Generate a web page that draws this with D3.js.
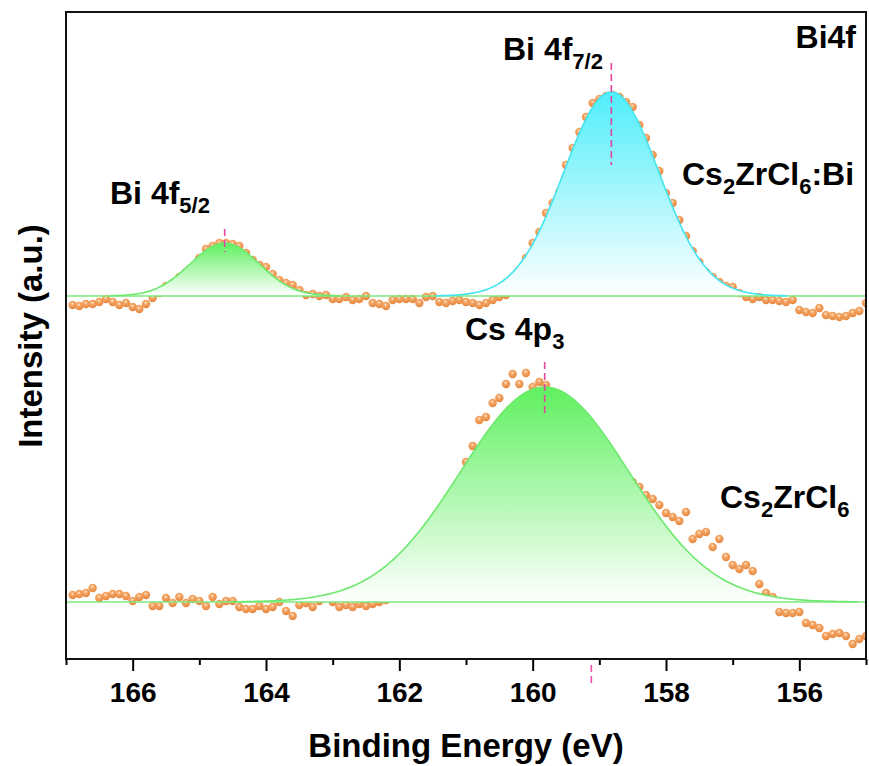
<!DOCTYPE html>
<html>
<head>
<meta charset="utf-8">
<script src="https://cdn.jsdelivr.net/npm/d3@7"></script>
<style>
	html, body { margin: 0; padding: 0; background: #fff; }
	svg { display: block; font-family: "Liberation Sans", Arial, sans-serif; font-weight: bold; }
</style>
</head>
<body>
<svg id="chart" width="869" height="766"></svg>
<script>
	"use strict";

	// scan grid, binding energy in eV
	var aEnergy = [
		166.9, 166.8, 166.7, 166.6, 166.5, 166.4, 166.3, 166.2, 166.1, 166.0,
		165.9, 165.8, 165.7, 165.6, 165.5, 165.4, 165.3, 165.2, 165.1, 165.0,
		164.9, 164.8, 164.7, 164.6, 164.5, 164.4, 164.3, 164.2, 164.1, 164.0,
		163.9, 163.8, 163.7, 163.6, 163.5, 163.4, 163.3, 163.2, 163.1, 163.0,
		162.9, 162.8, 162.7, 162.6, 162.5, 162.4, 162.3, 162.2, 162.1, 162.0,
		161.9, 161.8, 161.7, 161.6, 161.5, 161.4, 161.3, 161.2, 161.1, 161.0,
		160.9, 160.8, 160.7, 160.6, 160.5, 160.4, 160.3, 160.2, 160.1, 160.0,
		159.9, 159.8, 159.7, 159.6, 159.5, 159.4, 159.3, 159.2, 159.1, 159.0,
		158.9, 158.8, 158.7, 158.6, 158.5, 158.4, 158.3, 158.2, 158.1, 158.0,
		157.9, 157.8, 157.7, 157.6, 157.5, 157.4, 157.3, 157.2, 157.1, 157.0,
		156.9, 156.8, 156.7, 156.6, 156.5, 156.4, 156.3, 156.2, 156.1, 156.0,
		155.9, 155.8, 155.7, 155.6, 155.5, 155.4, 155.3, 155.2, 155.1, 155.0
	];

	// measured intensity above the fitted background (a.u.)
	var aIntensityDoped = [
		-9, -10, -8, -8, -6, -3, -6, -9, -7, -11,
		-13, -8, -2, 3, 10, 13, 19, 24, 29, 38,
		47, 50, 53, 53, 52, 50, 43, 36, 31, 29,
		22, 16, 13, 11, 6, 1, 2, 0, 1, -3,
		-3, -1, -4, -3, 0, -7, -8, -10, -4, -3,
		-3, -3, -7, -1, 0, -6, -7, -5, -4, -6,
		-7, -9, -7, -4, -1, 1, 9, 26, 38, 53,
		64, 83, 93, 104, 131, 148, 164, 179, 193, 197,
		200, 201, 199, 194, 189, 171, 158, 141, 125, 103,
		93, 76, 60, 45, 34, 24, 19, 14, 10, 9,
		3, -1, -3, -1, -4, -4, -5, -6, -4, -14,
		-16, -17, -12, -19, -20, -21, -20, -17, -15, -7
	];
	var aIntensityHost = [
		7, 8, 9, 14, 4, 6, 8, 8, 6, 1,
		5, 7, -4, -4, 4, -1, 5, -1, 3, 1,
		-4, 5, -2, 1, 1, -5, -7, -7, -4, -7,
		-5, 0, -9, -14, -3, -1, -5, 1, 4, 0,
		-5, -3, -5, -2, -4, -2, 0, 2, 5, 9,
		15, 24, 35, 48, 62, 78, 92, 105, 120, 140,
		156, 182, 185, 199, 204, 218, 228, 218, 229, 215,
		220, 217, 208, 205, 203, 198, 190, 180, 170, 160,
		150, 141, 133, 126, 120, 115, 107, 103, 97, 89,
		85, 81, 90, 63, 68, 70, 55, 63, 45, 37,
		33, 37, 31, 18, 9, 5, -10, -11, -11, -10,
		-21, -23, -26, -34, -32, -31, -34, -42, -37, -34
	];

	// stacking offset of each spectrum (a.u.)
	var aSpectra = ["Cs2ZrCl6:Bi", "Cs2ZrCl6"];
	var aBackground = [363, 57];

	// fitted components
	var aPeakNames = ["Bi 4f5/2", "Bi 4f7/2", "Cs 4p3"];
	var aPeakSpectrum = [0, 0, 1];
	var aPeakCenter = [164.62, 158.82, 159.82];
	var aPeakHeight = [53, 204, 215];
	var aPeakFwhm = [1.22, 1.68, 2.97];

	var fStrayMark = 159.12;
	var aMajorTicks = [166, 164, 162, 160, 158, 156];
	var aMinorTicks = [167, 165, 163, 161, 159, 157, 155];

	var iWidth = 869, iHeight = 766;
	var oMargin = { top: 12, right: 3, bottom: 107, left: 66 };
	var aPeakColor = ["#5ff05f", "#4feefa", "#5ff05f"];
	var aPeakLine = ["#6fe86f", "#45e4ee", "#6fe86f"];
	var aMarkSpan = [[-14, 9], [-29, 73], [-25, 28]];

	var oSvg = d3.select("#chart");

	var oScaleX = d3.scaleLinear()
		.domain([167, 155])
		.range([oMargin.left, iWidth - oMargin.right]);

	var oScaleY = d3.scaleLinear()
		.domain([0, 647])
		.range([iHeight - oMargin.bottom, oMargin.top]);

	var oDefs = oSvg.append("defs");

	oDefs.append("clipPath").attr("id", "plotClip")
		.append("rect")
		.attr("x", oMargin.left)
		.attr("y", oMargin.top)
		.attr("width", iWidth - oMargin.right - oMargin.left)
		.attr("height", iHeight - oMargin.bottom - oMargin.top);

	var oBall = oDefs.append("radialGradient")
		.attr("id", "ball")
		.attr("cx", "45%").attr("cy", "35%").attr("r", "65%");
	oBall.append("stop").attr("offset", "0%").attr("stop-color", "#ffeedd");
	oBall.append("stop").attr("offset", "30%").attr("stop-color", "#f5a868");
	oBall.append("stop").attr("offset", "100%").attr("stop-color", "#e5853c");

	function gauss(iPeak, fE) {
		var fSigma = aPeakFwhm[iPeak] / 2.3548;
		var fD = (fE - aPeakCenter[iPeak]) / fSigma;
		return aPeakHeight[iPeak] * Math.exp(-0.5 * fD * fD);
	}

	var aFine = d3.range(155, 167.001, 0.02);
	var oPlot = oSvg.append("g").attr("clip-path", "url(#plotClip)");

	// measured points
	[aIntensityDoped, aIntensityHost].forEach(function (aValues, iSpec) {
		oPlot.append("g")
			.selectAll("circle")
			.data(aValues)
			.enter().append("circle")
			.attr("cx", function (d, i) { return oScaleX(aEnergy[i]); })
			.attr("cy", function (d) { return oScaleY(aBackground[iSpec] + d); })
			.attr("r", 4.2)
			.attr("fill", "url(#ball)");
	});

	// fitted components, filled
	aPeakNames.forEach(function (sName, iPeak) {
		var fBase = aBackground[aPeakSpectrum[iPeak]];
		var sId = "fill" + iPeak;
		var oGrad = oDefs.append("linearGradient")
			.attr("id", sId)
			.attr("gradientUnits", "userSpaceOnUse")
			.attr("x1", 0).attr("x2", 0)
			.attr("y1", oScaleY(fBase + aPeakHeight[iPeak]))
			.attr("y2", oScaleY(fBase));
		oGrad.append("stop").attr("offset", "0%").attr("stop-color", aPeakColor[iPeak]);
		oGrad.append("stop").attr("offset", "100%").attr("stop-color", "#ffffff");

		var oArea = d3.area()
			.x(function (e) { return oScaleX(e); })
			.y0(oScaleY(fBase))
			.y1(function (e) { return oScaleY(fBase + gauss(iPeak, e)); });

		oPlot.append("path")
			.datum(aFine)
			.attr("d", oArea)
			.attr("fill", "url(#" + sId + ")");
	});

	// backgrounds
	aBackground.forEach(function (fBase) {
		oPlot.append("line")
			.attr("x1", oScaleX(167)).attr("x2", oScaleX(155))
			.attr("y1", oScaleY(fBase)).attr("y2", oScaleY(fBase))
			.attr("stroke", "#7ce87c")
			.attr("stroke-width", 1.6);
	});

	// component outlines
	aPeakNames.forEach(function (sName, iPeak) {
		var fBase = aBackground[aPeakSpectrum[iPeak]];
		var oLine = d3.line()
			.x(function (e) { return oScaleX(e); })
			.y(function (e) { return oScaleY(fBase + gauss(iPeak, e)); });
		oPlot.append("path")
			.datum(aFine.filter(function (e) { return gauss(iPeak, e) > 0.2; }))
			.attr("d", oLine)
			.attr("fill", "none")
			.attr("stroke", aPeakLine[iPeak])
			.attr("stroke-width", 1.6);
	});

	// peak position marks
	aPeakNames.forEach(function (sName, iPeak) {
		var fTop = oScaleY(aBackground[aPeakSpectrum[iPeak]] + aPeakHeight[iPeak]);
		oSvg.append("line")
			.attr("x1", oScaleX(aPeakCenter[iPeak])).attr("x2", oScaleX(aPeakCenter[iPeak]))
			.attr("y1", fTop + aMarkSpan[iPeak][0]).attr("y2", fTop + aMarkSpan[iPeak][1])
			.attr("stroke", "#e0479f")
			.attr("stroke-width", 1.6)
			.attr("stroke-dasharray", "7,4");
	});
	oSvg.append("line")
		.attr("x1", oScaleX(fStrayMark)).attr("x2", oScaleX(fStrayMark))
		.attr("y1", oScaleY(0) + 6).attr("y2", oScaleY(0) + 28)
		.attr("stroke", "#f050a8")
		.attr("stroke-width", 1.6)
		.attr("stroke-dasharray", "7,4");

	// axes
	var oXAxis = oSvg.append("g")
		.attr("transform", "translate(0," + oScaleY(0) + ")")
		.call(d3.axisBottom(oScaleX).tickValues(aMajorTicks).tickSize(12).tickPadding(11)
			.tickFormat(d3.format("d")));
	oXAxis.select(".domain").remove();
	oXAxis.selectAll("line").attr("stroke", "#000").attr("stroke-width", 2);
	oXAxis.selectAll("text")
		.attr("fill", "#000")
		.style("font-size", "28px")
		.style("font-family", "'Liberation Sans', Arial, sans-serif")
		.style("font-weight", "bold");

	var oMinor = oSvg.append("g")
		.attr("transform", "translate(0," + oScaleY(0) + ")")
		.call(d3.axisBottom(oScaleX).tickValues(aMinorTicks).tickSize(6).tickFormat(""));
	oMinor.select(".domain").remove();
	oMinor.selectAll("line").attr("stroke", "#000").attr("stroke-width", 2);

	oSvg.append("rect")
		.attr("x", oMargin.left)
		.attr("y", oMargin.top)
		.attr("width", iWidth - oMargin.right - oMargin.left)
		.attr("height", iHeight - oMargin.bottom - oMargin.top)
		.attr("fill", "none")
		.attr("stroke", "#111")
		.attr("stroke-width", 2);

	oSvg.append("text")
		.attr("x", 466).attr("y", 757)
		.attr("text-anchor", "middle")
		.style("font-size", "33px")
		.text("Binding Energy (eV)");

	oSvg.append("text")
		.attr("transform", "translate(42,336) rotate(-90)")
		.attr("text-anchor", "middle")
		.style("font-size", "33px")
		.text("Intensity (a.u.)");

	// annotations: [text, subscript?]
	var aLabels = [
		{ x: 110, y: 204, parts: [["Bi 4f", 0], ["5/2", 1]] },
		{ x: 503, y: 60, parts: [["Bi 4f", 0], ["7/2", 1]] },
		{ x: 465, y: 340, parts: [["Cs 4p", 0], ["3", 1]] },
		{ x: 682, y: 185, parts: [["Cs", 0], ["2", 1], ["ZrCl", 0], ["6", 1], [":Bi", 0]] },
		{ x: 720, y: 508, parts: [["Cs", 0], ["2", 1], ["ZrCl", 0], ["6", 1]] },
		{ x: 856, y: 48, anchor: "end", parts: [["Bi4f", 0]] }
	];

	aLabels.forEach(function (oLabel) {
		var oText = oSvg.append("text")
			.attr("x", oLabel.x).attr("y", oLabel.y)
			.attr("text-anchor", oLabel.anchor || "start")
			.style("font-size", "32px");
		var bLow = false;
		oLabel.parts.forEach(function (aPart) {
			var oSpan = oText.append("tspan").text(aPart[0]);
			if (aPart[1]) {
				oSpan.style("font-size", "22px");
				if (!bLow) { oSpan.attr("dy", 9); bLow = true; }
			} else if (bLow) {
				oSpan.attr("dy", -9);
				bLow = false;
			}
		});
	});
</script>
</body>
</html>
